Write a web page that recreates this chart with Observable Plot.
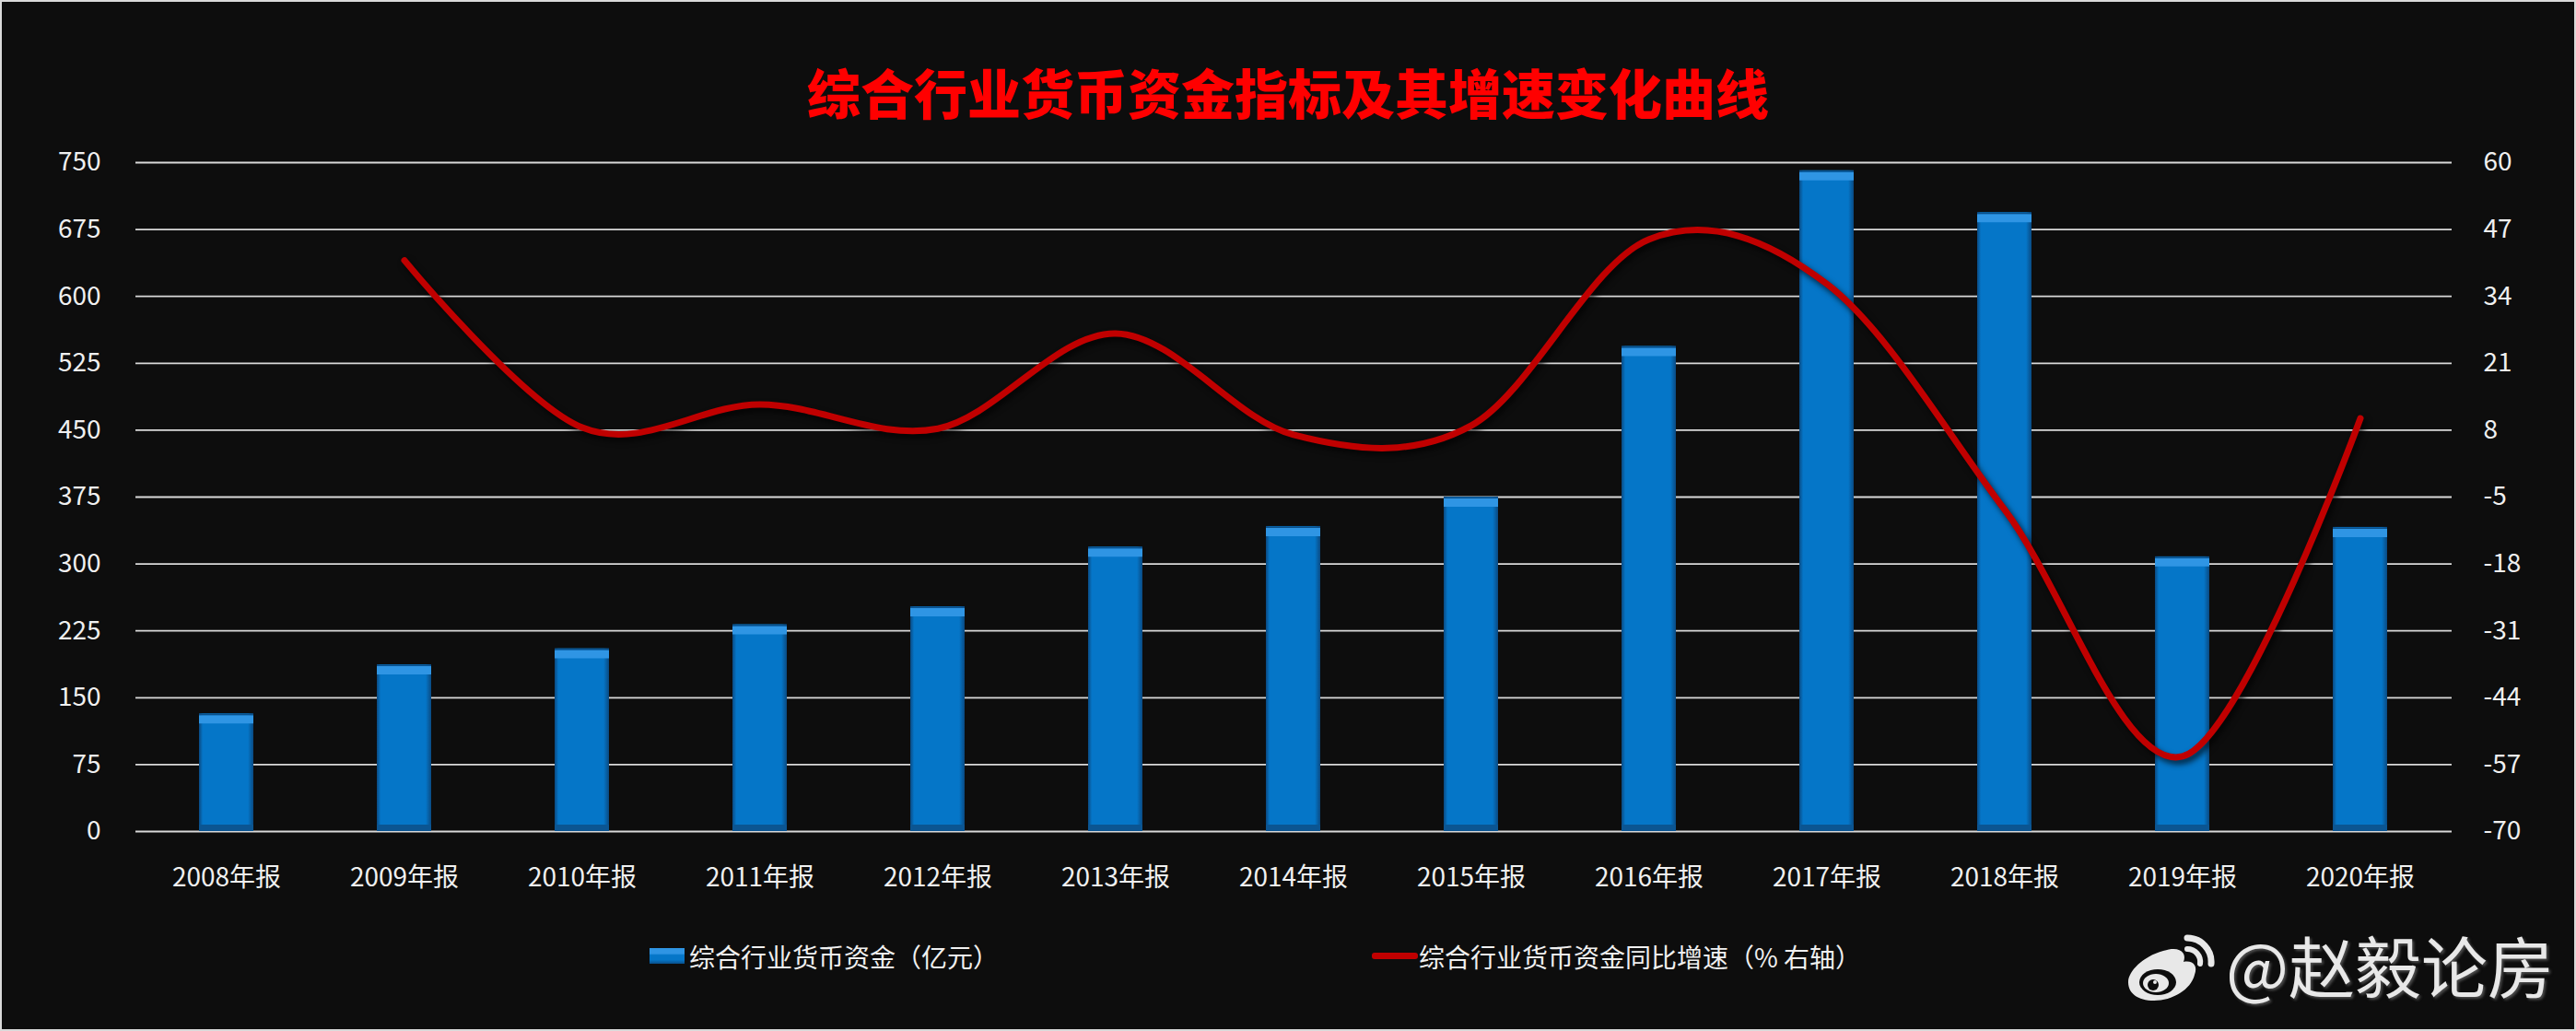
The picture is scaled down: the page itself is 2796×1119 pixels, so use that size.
<!DOCTYPE html>
<html>
<head>
<meta charset="utf-8">
<script src="https://cdn.jsdelivr.net/npm/d3@7"></script>
<script src="https://cdn.jsdelivr.net/npm/@observablehq/plot@0.6"></script>
<style>
  html, body { margin: 0; padding: 0; background: #0d0d0d; }
  #stage { position: relative; width: 2796px; height: 1119px; background: #0d0d0d; overflow: hidden;
           font-family: "Noto Sans CJK SC", "Noto Sans", sans-serif; }
  .abs { position: absolute; white-space: nowrap; }
  #title { left: 0; width: 2796px; top: 70px; text-align: center; color: #ff0000; font-size: 58px;
           line-height: 58px; font-weight: 900; letter-spacing: 0px; }
  .legtext { color: #f0f0f0; font-size: 28px; line-height: 28px; top: 1024px; }
  #border { left: 0; top: 0; width: 2796px; height: 1119px; box-sizing: border-box; border: 2px solid #d9d9d9; pointer-events: none; }
  #wm { left: 2416px; top: 1010px; font-size: 72px; line-height: 72px; color: #e8e8e8;
        text-shadow: 2px 2px 3px rgba(120,120,120,0.6); }
</style>
</head>
<body>
<div id="stage">
  <div id="title" class="abs">综合行业货币资金指标及其增速变化曲线</div>
  <div id="chart" class="abs" style="left:0;top:0"></div>
  <div id="chart2" class="abs" style="left:0;top:0"></div>

  <div class="abs" style="left:705px;top:1029px;width:38px;height:17px;background:linear-gradient(#2f95e4 0%,#2f95e4 35%,#0576c8 45%,#0576c8 75%,#0a4f8a 100%);"></div>
  <div class="abs legtext" style="left:748px;">综合行业货币资金（亿元）</div>
  <div class="abs" style="left:1489px;top:1034px;width:50px;height:7px;background:#c00000;border-radius:3px;"></div>
  <div class="abs legtext" style="left:1540px;">综合行业货币资金同比增速（% 右轴）</div>

  <svg class="abs" style="left:2308px;top:1008px" width="100" height="84" viewBox="0 0 100 84">
    <g fill="#e8e8e8">
      <path d="M40 24 C58 18 66 26 62 36 C72 34 78 40 74 50 C70 66 50 78 30 78 C12 78 2 70 2 58 C2 46 18 30 40 24 Z"/>
    </g>
    <ellipse cx="34" cy="58" rx="20" ry="14" fill="#0d0d0d"/>
    <ellipse cx="32" cy="59" rx="14" ry="10" fill="#e8e8e8"/>
    <circle cx="29" cy="61" r="6" fill="#0d0d0d"/>
    <circle cx="31" cy="58" r="2" fill="#e8e8e8"/>
    <path d="M66 10 A26 26 0 0 1 92 38" stroke="#e8e8e8" stroke-width="7" fill="none" stroke-linecap="round"/>
    <path d="M66 22 A14 14 0 0 1 80 38" stroke="#e8e8e8" stroke-width="6" fill="none" stroke-linecap="round"/>
  </svg>
  <div id="wm" class="abs">@赵毅论房</div>
  <div id="border" class="abs"></div>
</div>
<script>
// ---- data ----
const years = ["2008年报","2009年报","2010年报","2011年报","2012年报","2013年报","2014年报","2015年报","2016年报","2017年报","2018年报","2019年报","2020年报"];
const funds = [132, 187, 205, 232, 252, 319, 342, 375, 544, 741, 694, 308, 341];
const growth = [null, 41.0, 8.5, 13.0, 8.3, 26.8, 7.1, 8.9, 45.1, 36.4, -7.5, -55.4, 10.3];
const leftTicks = [0, 75, 150, 225, 300, 375, 450, 525, 600, 675, 750];
const rightTicks = [-70, -57, -44, -31, -18, -5, 8, 21, 34, 47, 60];

const rows = years.map((year, i) => ({year, funds: funds[i], growth: growth[i]}));
const lineRows = rows.filter(d => d.growth != null);

const W = 2796, H = 1000;
const margins = {marginLeft: 147, marginRight: 135, marginTop: 176, marginBottom: 98};
const xScale = {type: "band", domain: years, paddingInner: 0.693, paddingOuter: 0.3465, label: null};
const baseStyle = {fontFamily: "'Noto Sans CJK SC', 'Noto Sans', sans-serif", fontSize: "28px", color: "#f0f0f0", background: "transparent", overflow: "visible"};

const p1 = Plot.plot({
  width: W, height: H, ...margins,
  style: baseStyle,
  x: xScale,
  y: {domain: [0, 750], label: null},
  marks: [
    Plot.gridY(leftTicks, {stroke: "#d9d9d9", strokeOpacity: 1, strokeWidth: 1.8}),
    Plot.barY(rows, {x: "year", y: "funds", fill: "url(#barGrad)"}),
    Plot.tickY(rows, {x: "year", y: "funds", stroke: "#2f95e4", strokeWidth: 9, dy: 6}),
    Plot.tickY(rows, {x: "year", y: "funds", stroke: "#0a4f8a", strokeWidth: 1.5, dy: 0.8}),
    Plot.tickY(rows, {x: "year", y: 0, stroke: "#0b5592", strokeWidth: 7, dy: -4}),
    Plot.axisY(leftTicks, {anchor: "left", tickSize: 0, tickPadding: 38, tickFormat: d => String(d), label: null}),
    Plot.axisX({tickSize: 0, tickPadding: 40, label: null})
  ]
});
d3.select(p1).insert("defs", ":first-child").html(`
  <linearGradient id="barGrad" x1="0" x2="1" y1="0" y2="0">
    <stop offset="0" stop-color="#0a4a82"/>
    <stop offset="0.07" stop-color="#0576c8"/>
    <stop offset="0.9" stop-color="#0576c8"/>
    <stop offset="1" stop-color="#0a4a82"/>
  </linearGradient>`);
document.getElementById("chart").appendChild(p1);

const p2 = Plot.plot({
  width: W, height: H, ...margins,
  style: baseStyle,
  x: {...xScale, axis: null},
  y: {domain: [-70, 60], label: null, axis: null},
  marks: [
    Plot.line(lineRows, {x: "year", y: "growth", stroke: "#c00000", strokeWidth: 7, curve: "cardinal", tension: 0, strokeLinecap: "round"}),
    Plot.axisY(rightTicks, {anchor: "right", tickSize: 0, tickPadding: 34, tickFormat: d => String(d), label: null})
  ]
});
d3.select(p2).selectAll("path").filter(function() { return this.getAttribute("stroke") === "#c00000" || (this.parentNode && this.parentNode.getAttribute && this.parentNode.getAttribute("stroke") === "#c00000"); })
  .style("filter", "drop-shadow(3px 4px 3px rgba(0,0,0,0.7))");
document.getElementById("chart2").appendChild(p2);
</script>
</body>
</html>
